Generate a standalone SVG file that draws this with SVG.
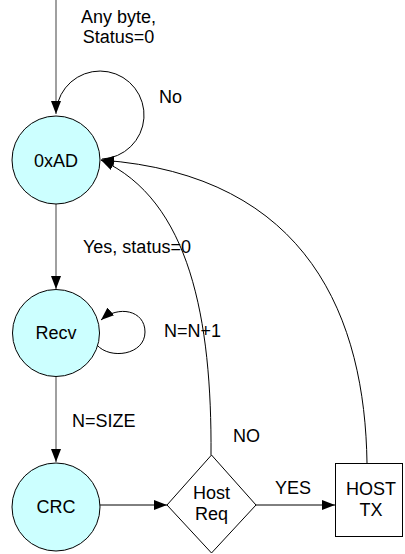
<svg xmlns="http://www.w3.org/2000/svg" width="405" height="554" viewBox="0 0 405 554">
<style>
text{font-family:"Liberation Sans",Arial,sans-serif;font-size:18px;fill:#000}
.state{fill:#ccffff;stroke:#000;stroke-width:1}
.box{fill:#fff;stroke:#000;stroke-width:1}
.c{fill:none;stroke:#000;stroke-width:1}
.g{fill:none;stroke:#808080;stroke-width:1.5}
.m{text-anchor:middle}
</style>
<defs>
<marker id="ah" markerUnits="userSpaceOnUse" markerWidth="13" markerHeight="10" refX="13" refY="5" orient="auto">
<path d="M0,0 L13,5 L0,10 z" fill="#000"/>
</marker>
</defs>
<g id="connectors">
<path class="g" d="M56 0 L56 114" marker-end="url(#ah)"/>
<path class="c" d="M58 102 A44 44 0 1 1 102 159"/>
<path class="g" d="M56 204 L56 289" marker-end="url(#ah)"/>
<path class="c" d="M97 345 C110 360 145 355 145 332 C145 310 118 305 101 320" marker-end="url(#ah)"/>
<path class="g" d="M56 377 L56 462" marker-end="url(#ah)"/>
<path class="c" d="M100 505 L167 505" marker-end="url(#ah)"/>
<path class="c" d="M256 505 L335 505" marker-end="url(#ah)"/>
<path class="c" d="M211 455 C212 320 190 200 101 160" marker-end="url(#ah)"/>
<path class="c" d="M367 463 C365 320 310 175 101 160" marker-end="url(#ah)"/>
</g>
<g id="labels">
<text class="m" x="118.5" y="23">Any byte,</text>
<text class="m" x="118.5" y="43">Status=0</text>
<text x="159" y="103">No</text>
<text x="83" y="253">Yes, status=0</text>
<text x="164" y="337">N=N+1</text>
<text x="72" y="427">N=SIZE</text>
<text x="233" y="442">NO</text>
<text x="275" y="494">YES</text>
</g>
<g id="node-0xAD">
<circle class="state" cx="56" cy="160" r="44"/>
<text class="m" x="56" y="166.5">0xAD</text>
</g>
<g id="node-Recv">
<circle class="state" cx="56" cy="333" r="43.5"/>
<text class="m" x="56" y="339">Recv</text>
</g>
<g id="node-CRC">
<circle class="state" cx="56" cy="507" r="44"/>
<text class="m" x="56" y="512.5">CRC</text>
</g>
<g id="node-HostReq">
<polygon class="box" points="211.5,455 256,505 211.5,553 167,505"/>
<text class="m" x="211.5" y="499">Host</text>
<text class="m" x="211.5" y="520">Req</text>
</g>
<g id="node-HostTX">
<rect class="box" x="335.5" y="463.5" width="67" height="73"/>
<text class="m" x="371" y="495">HOST</text>
<text class="m" x="371" y="516">TX</text>
</g>
</svg>
